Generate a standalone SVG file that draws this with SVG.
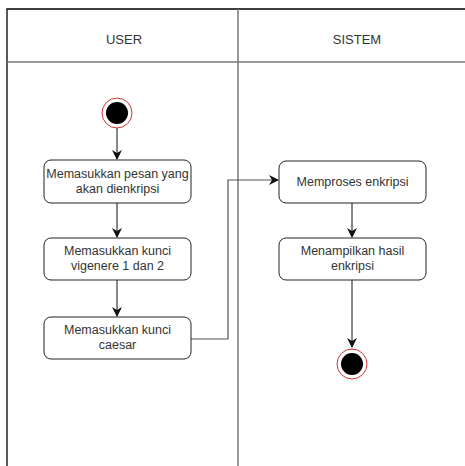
<svg xmlns="http://www.w3.org/2000/svg" width="465" height="466" viewBox="0 0 465 466">
<defs>
<style>
.lane{fill:none;stroke:#000;stroke-width:1.3}
.div{fill:none;stroke:#777;stroke-width:1.5}
.box{fill:#fff;stroke:#222;stroke-width:1}
.t{font-family:"Liberation Sans",Arial,sans-serif;font-size:12.5px;fill:#333;text-anchor:middle}
.h{font-family:"Liberation Sans",Arial,sans-serif;font-size:13px;fill:#333;text-anchor:middle}
.c{fill:none;stroke:#111;stroke-width:1}
.c2{fill:none;stroke:#555;stroke-width:1.2}
</style>
<marker id="arr" viewBox="0 0 10 10" refX="9" refY="5" markerWidth="10" markerHeight="10" markerUnits="userSpaceOnUse" orient="auto">
<path d="M0,0 L10,5 L0,10 L3,5 Z" fill="#111"/>
</marker>
</defs>
<rect width="465" height="466" fill="#fff"/>
<g id="pool">
<path class="lane" d="M7,466 V9 H465"/>
<path class="div" d="M238,9 V466"/>
<path class="div" d="M7,62 H465"/>
<text class="h" x="124" y="44">USER</text>
<text class="h" x="357" y="44">SISTEM</text>
</g>
<g id="connectors">
<path class="c" d="M117,128 V159" marker-end="url(#arr)"/>
<path class="c" d="M117,203 V237" marker-end="url(#arr)"/>
<path class="c" d="M117,280 V316" marker-end="url(#arr)"/>
<path class="c2" d="M191,339 H228 V180 H278" marker-end="url(#arr)"/>
<path class="c" d="M352,203 V237" marker-end="url(#arr)"/>
<path class="c" d="M352,280 V347" marker-end="url(#arr)"/>
</g>
<g id="start">
<circle cx="117" cy="113" r="15" fill="#fff" stroke="#c33" stroke-width="1"/>
<circle cx="117" cy="113" r="11" fill="#000"/>
</g>
<g id="n1">
<rect class="box" x="44" y="160" width="147" height="43" rx="7"/>
<text class="t" x="117.5" y="178">Memasukkan pesan yang</text>
<text class="t" x="117.5" y="193">akan dienkripsi</text>
</g>
<g id="n2">
<rect class="box" x="44" y="238" width="147" height="42" rx="7"/>
<text class="t" x="117.5" y="255">Memasukkan kunci</text>
<text class="t" x="117.5" y="270">vigenere 1 dan 2</text>
</g>
<g id="n3">
<rect class="box" x="44" y="317" width="147" height="42" rx="7"/>
<text class="t" x="117.5" y="334">Memasukkan kunci</text>
<text class="t" x="117.5" y="349">caesar</text>
</g>
<g id="n4">
<rect class="box" x="279" y="161" width="147" height="42" rx="7"/>
<text class="t" x="352.5" y="186">Memproses enkripsi</text>
</g>
<g id="n5">
<rect class="box" x="279" y="238" width="147" height="42" rx="7"/>
<text class="t" x="352.5" y="255">Menampilkan hasil</text>
<text class="t" x="352.5" y="270">enkripsi</text>
</g>
<g id="end">
<circle cx="352" cy="364" r="15" fill="#fff" stroke="#c33" stroke-width="1"/>
<circle cx="352" cy="364" r="11" fill="#000"/>
</g>
</svg>
